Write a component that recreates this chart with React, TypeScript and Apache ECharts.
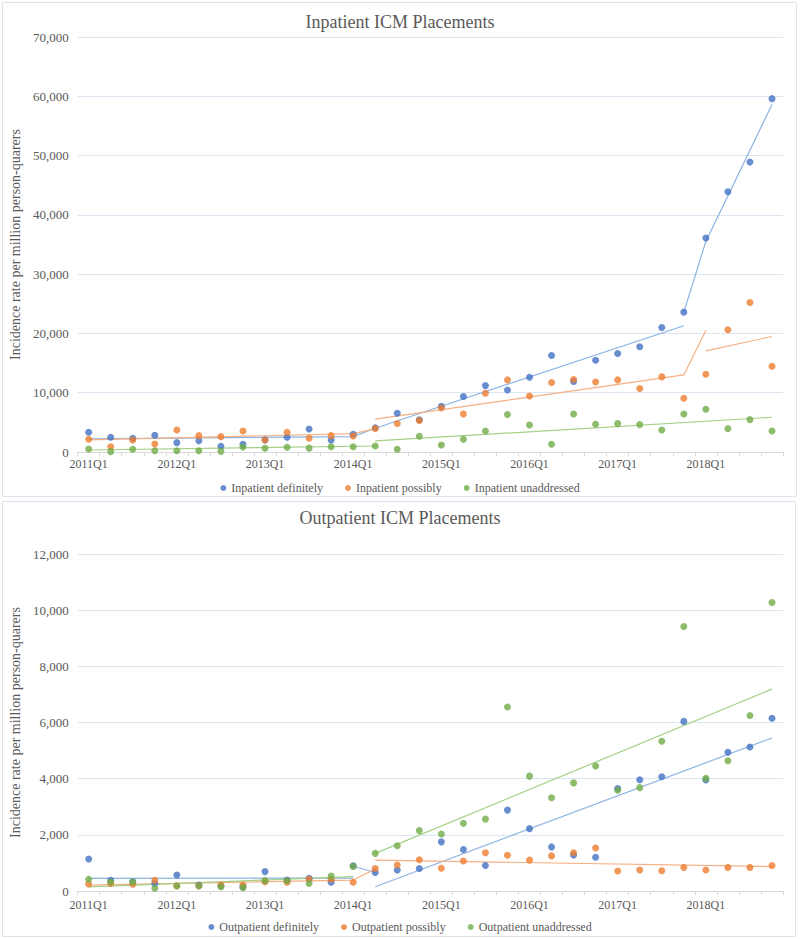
import React, { useEffect, useRef } from "react";
import * as echarts from "echarts";

const quarters = [
  "2011Q1", "2011Q2", "2011Q3", "2011Q4",
  "2012Q1", "2012Q2", "2012Q3", "2012Q4",
  "2013Q1", "2013Q2", "2013Q3", "2013Q4",
  "2014Q1", "2014Q2", "2014Q3", "2014Q4",
  "2015Q1", "2015Q2", "2015Q3", "2015Q4",
  "2016Q1", "2016Q2", "2016Q3", "2016Q4",
  "2017Q1", "2017Q2", "2017Q3", "2017Q4",
  "2018Q1", "2018Q2", "2018Q3", "2018Q4",
];

const titles = ["Inpatient ICM Placements", "Outpatient ICM Placements"];
const yName = "Incidence rate per million person-quarers";
const inNames = ["Inpatient definitely", "Inpatient possibly", "Inpatient unaddressed"];
const outNames = ["Outpatient definitely", "Outpatient possibly", "Outpatient unaddressed"];

// Inpatient points
const inDefinitely = [3330, 2480, 2310, 2820, 1580, 1910, 960, 1300, 2050, 2480, 3880, 2030, 2980, 4100, 6530, 5450, 7700, 9350, 11200, 10470, 12610, 16270, 11880, 15490, 16610, 17740, 21000, 23590, 36100, 43900, 48900, 59600];
const inPossibly = [2140, 900, 2030, 1350, 3720, 2760, 2590, 3550, 2030, 3330, 2310, 2760, 2700, 3950, 4800, 5300, 7430, 6420, 9910, 12160, 9460, 11710, 12220, 11820, 12160, 10700, 12670, 9070, 13120, 20610, 25220, 14470];
const inUnaddressed = [510, 60, 450, 220, 220, 220, 110, 840, 620, 790, 650, 900, 900, 1000, 450, 2650, 1180, 2140, 3550, 6310, 4560, 1300, 6420, 4670, 4790, 4620, 3720, 6420, 7210, 3940, 5460, 3550];

// Inpatient fitted lines (breakpoints)
const inDefTrendA: [string, number][] = [["2011Q1", 2200], ["2014Q1", 2600], ["2014Q2", 4000], ["2017Q4", 21300]];
const inDefTrendB: [string, number][] = [["2017Q4", 23600], ["2018Q1", 35500], ["2018Q4", 58600]];
const inPosTrendA: [string, number][] = [["2011Q1", 2030], ["2014Q1", 3100], ["2014Q2", 3900]];
const inPosTrendB: [string, number][] = [["2014Q2", 5550], ["2017Q4", 13000], ["2018Q1", 20500]];
const inPosTrendC: [string, number][] = [["2018Q1", 17060], ["2018Q4", 19480]];
const inUnTrendA: [string, number][] = [["2011Q1", 340], ["2014Q2", 1010]];
const inUnTrendB: [string, number][] = [["2014Q2", 1860], ["2018Q4", 5860]];

// Outpatient points
const outDefinitely = [1140, 380, 330, 270, 570, 210, 180, 150, 690, 390, 450, 310, 900, 660, 750, 800, 1750, 1480, 910, 2880, 2220, 1570, 1280, 1200, 3650, 3960, 4070, 6040, 3950, 4940, 5125, 6150];
const outPossibly = [250, 270, 240, 380, 190, 190, 210, 210, 330, 310, 420, 420, 310, 800, 925, 1110, 810, 1070, 1360, 1270, 1100, 1250, 1360, 1530, 710, 750, 720, 840, 750, 840, 840, 910];
const outUnaddressed = [420, 320, 320, 100, 180, 180, 150, 120, 370, 370, 270, 530, 870, 1340, 1610, 2150, 2030, 2410, 2560, 6550, 4090, 3320, 3850, 4450, 3590, 3680, 5330, 9420, 4010, 4640, 6250, 10270];

// Outpatient fitted lines (breakpoints)
const outDefTrendA: [string, number][] = [["2011Q1", 450], ["2014Q1", 460]];
const outDefTrendJoin: [string, number][] = [["2014Q1", 880], ["2014Q2", 660]];
const outDefTrendB: [string, number][] = [["2014Q2", 150], ["2018Q4", 5450]];
const outPosTrendA: [string, number][] = [["2011Q1", 210], ["2014Q1", 390], ["2014Q2", 780]];
const outPosTrendB: [string, number][] = [["2014Q2", 1100], ["2018Q4", 870]];
const outUnTrendA: [string, number][] = [["2011Q1", 150], ["2014Q1", 510]];
const outUnTrendB: [string, number][] = [["2014Q2", 1340], ["2018Q4", 7190]];

const dotColors = ["#4472C4", "#ED7D31", "#70AD47"];
const lineColors = ["#8DB3E2", "#F5B083", "#A3D186"];
const FONT = "'Liberation Serif', 'Times New Roman', serif";
const TXT = "#595959";

export default function App() {
  const ref = useRef<HTMLDivElement>(null);
  useEffect(() => {
    if (!ref.current) return;
    const chart = echarts.init(ref.current, undefined, { renderer: "svg" });

    const scatter = (name: string, data: number[], idx: number, color: string) => ({
      name,
      type: "scatter",
      xAxisIndex: idx,
      yAxisIndex: idx,
      data,
      symbol: "circle",
      symbolSize: 7,
      itemStyle: { color },
      z: 3,
    });
    const trend = (data: [string, number][], idx: number, color: string) => ({
      type: "line",
      xAxisIndex: idx,
      yAxisIndex: idx,
      data,
      showSymbol: false,
      symbol: "none",
      connectNulls: true,
      lineStyle: { color, width: 1.2 },
      silent: true,
      z: 2,
    });

    const xAxisCfg = (gridIndex: number, margin: number) => ({
      type: "category",
      gridIndex,
      data: quarters,
      boundaryGap: true,
      axisLine: { lineStyle: { color: "#D9D9D9" } },
      axisTick: { show: true, interval: 0, length: 4, lineStyle: { color: "#D9D9D9" } },
      axisLabel: { interval: 3, margin, color: TXT, fontSize: 12, fontFamily: FONT },
    });
    const yAxisCfg = (gridIndex: number, max: number, interval: number) => ({
      type: "value",
      gridIndex,
      min: 0,
      max,
      interval,
      name: yName,
      nameLocation: "middle",
      nameGap: 47,
      nameTextStyle: { color: TXT, fontSize: 14, fontFamily: FONT },
      axisLine: { show: false },
      axisTick: { show: false },
      splitLine: { lineStyle: { color: "#DCE6F1" } },
      axisLabel: {
        color: TXT,
        fontSize: 13,
        fontFamily: FONT,
        margin: 9,
        formatter: (v: number) => v.toLocaleString("en-US"),
      },
    });
    const legendCfg = (names: string[], top: number) => ({
      data: names,
      left: "center",
      top,
      icon: "circle",
      itemWidth: 6,
      itemHeight: 6,
      itemGap: 22,
      textStyle: { color: TXT, fontSize: 12, fontFamily: FONT },
    });

    chart.setOption({
      animation: false,
      backgroundColor: "#ffffff",
      title: [
        { text: titles[0], left: "center", top: 8, textStyle: { color: TXT, fontSize: 18, fontWeight: "normal", fontFamily: FONT } },
        { text: titles[1], left: "center", top: 504, textStyle: { color: TXT, fontSize: 18, fontWeight: "normal", fontFamily: FONT } },
      ],
      legend: [legendCfg(inNames, 477), legendCfg(outNames, 916)],
      grid: [
        { left: 71, right: 17, top: 37, height: 415 },
        { left: 71, right: 17, top: 554, height: 337 },
      ],
      xAxis: [xAxisCfg(0, 6), xAxisCfg(1, 8)],
      yAxis: [yAxisCfg(0, 70000, 10000), yAxisCfg(1, 12000, 2000)],
      graphic: [
        { type: "rect", shape: { x: 2.5, y: 2.5, width: 794, height: 494 }, style: { fill: "none", stroke: "#DDE3EA", lineWidth: 1 }, silent: true },
        { type: "rect", shape: { x: 2.5, y: 501.5, width: 793, height: 435 }, style: { fill: "none", stroke: "#DDE3EA", lineWidth: 1 }, silent: true },
      ],
      series: [
        trend(inDefTrendA, 0, lineColors[0]),
        trend(inDefTrendB, 0, lineColors[0]),
        trend(inPosTrendA, 0, lineColors[1]),
        trend(inPosTrendB, 0, lineColors[1]),
        trend(inPosTrendC, 0, lineColors[1]),
        trend(inUnTrendA, 0, lineColors[2]),
        trend(inUnTrendB, 0, lineColors[2]),
        scatter(inNames[0], inDefinitely, 0, dotColors[0]),
        scatter(inNames[1], inPossibly, 0, dotColors[1]),
        scatter(inNames[2], inUnaddressed, 0, dotColors[2]),
        trend(outDefTrendA, 1, lineColors[0]),
        trend(outDefTrendJoin, 1, lineColors[0]),
        trend(outDefTrendB, 1, lineColors[0]),
        trend(outPosTrendA, 1, lineColors[1]),
        trend(outPosTrendB, 1, lineColors[1]),
        trend(outUnTrendA, 1, lineColors[2]),
        trend(outUnTrendB, 1, lineColors[2]),
        scatter(outNames[0], outDefinitely, 1, dotColors[0]),
        scatter(outNames[1], outPossibly, 1, dotColors[1]),
        scatter(outNames[2], outUnaddressed, 1, dotColors[2]),
      ],
    });
    return () => chart.dispose();
  }, []);
  return (
    <div
      ref={ref}
      style={{ position: "absolute", left: 0, top: 0, width: 800, height: 939, background: "#fff" }}
    />
  );
}
